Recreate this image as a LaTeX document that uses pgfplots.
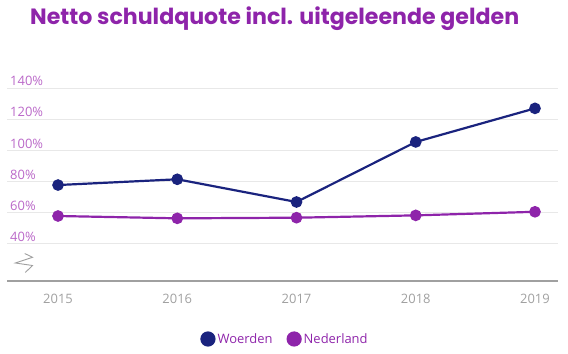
\documentclass[border=0pt]{standalone}
\usepackage{fontspec}
\setmainfont{Open Sans}
\newfontfamily\titlefont{Poppins}
\usepackage{pgfplots}
\pgfplotsset{compat=1.18}
\definecolor{navy}{RGB}{26,35,126}
\definecolor{purp}{RGB}{142,36,170}
\definecolor{lpurp}{RGB}{186,104,200}
\definecolor{gridc}{RGB}{232,232,232}
\definecolor{axc}{RGB}{160,160,160}
\begin{document}
\begin{tikzpicture}
\path[use as bounding box] (0bp,0bp) rectangle (568bp,354bp);
\node[anchor=base west, inner sep=0, text=purp, font=\titlefont\bfseries\fontsize{22.2}{25}\selectfont] at (30bp,329bp) {Netto schuldquote incl. uitgeleende gelden};
\begin{axis}[
 at={(7bp,73.3bp)}, anchor=south west, scale only axis, width=551bp, height=192.4bp,
 xmin=2014.572, xmax=2019.193, ymin=16.3, ymax=140,
 axis line style={draw=none},
 xtick={2015,2016,2017,2018,2019}, ytick={40,60,80,100,120,140},
 major tick length=0pt,
 ymajorgrids, grid style={draw=gridc, line width=1.3bp},
 /pgf/number format/assume math mode=true,
 /pgf/number format/1000 sep={},
 xticklabel style={anchor=base, yshift=-22.3bp, inner sep=0pt, text=axc, font=\fontsize{13}{15}\selectfont},
 yticklabel={\pgfmathprintnumber{\tick}\%},
 yticklabel style={anchor=base west, xshift=3bp, yshift=2.5bp, inner sep=0pt, text=lpurp, font=\fontsize{13}{15}\selectfont},
 legend columns=2,
 legend style={at={(axis description cs:0.5045,-0.303)}, anchor=center, draw=none, fill=none, font=\fontsize{13}{15}\selectfont, text=purp, /tikz/every even column/.append style={column sep=12bp}},
 legend image code/.code={\fill[#1] (0bp,0bp) circle (6.5bp);},
 clip=false,
]
\addplot[navy, line width=2.2bp, mark=*, mark size=4.7bp] coordinates {(2015,77.8) (2016,81.5) (2017,66.9) (2018,105.5) (2019,127.1)};
\addlegendentry{Woerden}
\addplot[purp, line width=2.2bp, mark=*, mark size=4.7bp] coordinates {(2015,57.9) (2016,56.4) (2017,56.8) (2018,58.3) (2019,60.6)};
\addlegendentry{Nederland}
\draw[axc, line width=2bp] (rel axis cs:0,0) -- (rel axis cs:1,0);
\end{axis}
\draw[axc, line width=0.9bp] (24.7bp,100.5bp) -- (32.5bp,96.7bp) -- (15.3bp,91bp) -- (32.5bp,88.5bp) -- (25.3bp,81.5bp);
\end{tikzpicture}
\end{document}
